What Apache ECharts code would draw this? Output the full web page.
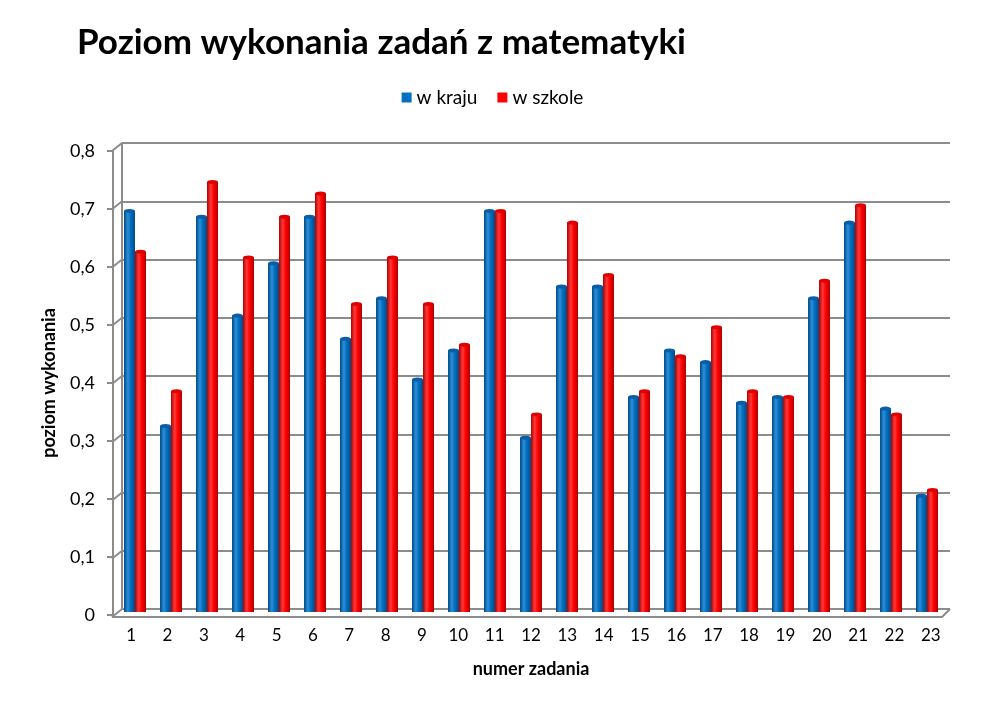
<!DOCTYPE html>
<html>
<head>
<meta charset="utf-8">
<script src="https://cdn.jsdelivr.net/npm/echarts@6/dist/echarts.min.js"></script>
<style>
html,body{margin:0;padding:0;background:#fff;}
#chart{width:985px;height:709px;}
</style>
</head>
<body>
<div id="chart"></div>
<script>
const categories = ['1','2','3','4','5','6','7','8','9','10','11','12','13','14','15','16','17','18','19','20','21','22','23'];
const wKraju  = [0.69,0.32,0.68,0.51,0.60,0.68,0.47,0.54,0.40,0.45,0.69,0.30,0.56,0.56,0.37,0.45,0.43,0.36,0.37,0.54,0.67,0.35,0.20];
const wSzkole = [0.62,0.38,0.74,0.61,0.68,0.72,0.53,0.61,0.53,0.46,0.69,0.34,0.67,0.58,0.38,0.44,0.49,0.38,0.37,0.57,0.70,0.34,0.21];
const yTicks = [0,0.1,0.2,0.3,0.4,0.5,0.6,0.7,0.8];
const yMin = 0, yMax = 0.8, yStep = 0.1;

const FONT = 'Lato';
const GRAY = '#8c8c8c';
const DX = -10, DY = 8; // depth offset from back wall to front edge

function cyl(dark, mid, light){
  return new echarts.graphic.LinearGradient(0,0,1,0,[
    {offset:0,color:dark},{offset:0.35,color:light},{offset:0.6,color:mid},{offset:1,color:dark}
  ]);
}

const chart = echarts.init(document.getElementById('chart'));
const option = {
  backgroundColor:'#fff',
  animation:false,
  title:{text:'Poziom wykonania zadań z matematyki',left:72,top:20,
    textStyle:{fontFamily:FONT,fontWeight:'bold',fontSize:35,color:'#000'}},
  legend:{top:83,left:'center',itemWidth:10,itemHeight:10,itemGap:20,itemTextGap:6,icon:'rect',
    textStyle:{fontFamily:FONT,fontSize:19,color:'#000'}},
  grid:[
    {left:122,right:35,top:143,bottom:100}, // back wall
    {left:113,right:36,top:151,bottom:94},  // front (labels)
    {left:117,right:40,top:147,bottom:97}   // bars
  ],
  xAxis:[
    {gridIndex:0,type:'category',data:categories,axisLine:{show:false},axisTick:{show:false},axisLabel:{show:false}},
    {gridIndex:1,type:'category',data:categories,axisLine:{show:false},axisTick:{show:false},
      axisLabel:{fontFamily:FONT,fontSize:17,color:'#000',margin:12},
      name:'numer zadania',nameLocation:'middle',nameGap:45,
      nameTextStyle:{fontFamily:FONT,fontWeight:'bold',fontSize:18,color:'#000'}},
    {gridIndex:2,type:'category',data:categories,show:false}
  ],
  yAxis:[
    {gridIndex:0,type:'value',min:yMin,max:yMax,interval:yStep,
      axisLine:{show:true,lineStyle:{color:GRAY,width:2}},axisTick:{show:false},axisLabel:{show:false},
      splitLine:{show:true,lineStyle:{color:GRAY,width:2}}},
    {gridIndex:1,type:'value',min:yMin,max:yMax,interval:yStep,
      axisLine:{show:true,lineStyle:{color:GRAY,width:2}},
      axisTick:{show:true,length:6,lineStyle:{color:GRAY,width:2}},
      axisLabel:{fontFamily:FONT,fontSize:18,color:'#000',margin:18,
        formatter:v=>String(Math.round(v*10)/10).replace('.',',')},
      splitLine:{show:false},
      name:'poziom wykonania',nameLocation:'middle',nameGap:55,nameRotate:90,
      nameTextStyle:{fontFamily:FONT,fontWeight:'bold',fontSize:18,color:'#000'}},
    {gridIndex:2,type:'value',min:yMin,max:yMax,interval:yStep,show:false,splitLine:{show:false}}
  ],
  series:[
    {
      type:'custom',xAxisIndex:0,yAxisIndex:0,silent:true,z:1,
      data:[0],
      renderItem:function(params,api){
        const cs = params.coordSys;
        const children = [];
        yTicks.forEach(function(v){
          const p = api.coord([0,v]);
          children.push({type:'line',shape:{x1:cs.x,y1:p[1],x2:cs.x+DX,y2:p[1]+DY},
            style:{stroke:GRAY,lineWidth:2}});
        });
        const p0 = api.coord([0,0]);
        const yb = p0[1];
        children.push({type:'polyline',shape:{points:[[cs.x+DX,yb+DY],[cs.x+cs.width+DX+2,yb+DY],[cs.x+cs.width,yb]]},
          style:{stroke:GRAY,lineWidth:2,fill:null}});
        return {type:'group',children:children};
      }
    },
    {name:'w kraju',type:'bar',xAxisIndex:2,yAxisIndex:2,data:wKraju,barWidth:11,barGap:'0%',z:3,
      itemStyle:{color:cyl('#004a86','#0070c0','#2d8fd8')}},
    {name:'w szkole',type:'bar',xAxisIndex:2,yAxisIndex:2,data:wSzkole,barWidth:11,barGap:'0%',z:3,
      itemStyle:{color:cyl('#b00000','#ff0000','#ff3a3a')}},
    {name:'w kraju',type:'pictorialBar',xAxisIndex:2,yAxisIndex:2,data:wKraju,barWidth:11,barGap:'0%',z:4,
      symbol:'circle',symbolSize:[11,4],symbolPosition:'end',symbolOffset:[0,'-50%'],
      itemStyle:{color:'#0a5ea8'},legendHoverLink:false},
    {name:'w szkole',type:'pictorialBar',xAxisIndex:2,yAxisIndex:2,data:wSzkole,barWidth:11,barGap:'0%',z:4,
      symbol:'circle',symbolSize:[11,4],symbolPosition:'end',symbolOffset:[0,'-50%'],
      itemStyle:{color:'#e00000'},legendHoverLink:false}
  ]
};
option.legend.data = [
  {name:'w kraju',itemStyle:{color:'#0070c0'}},
  {name:'w szkole',itemStyle:{color:'#ff0000'}}
];
chart.setOption(option);
</script>
</body>
</html>
